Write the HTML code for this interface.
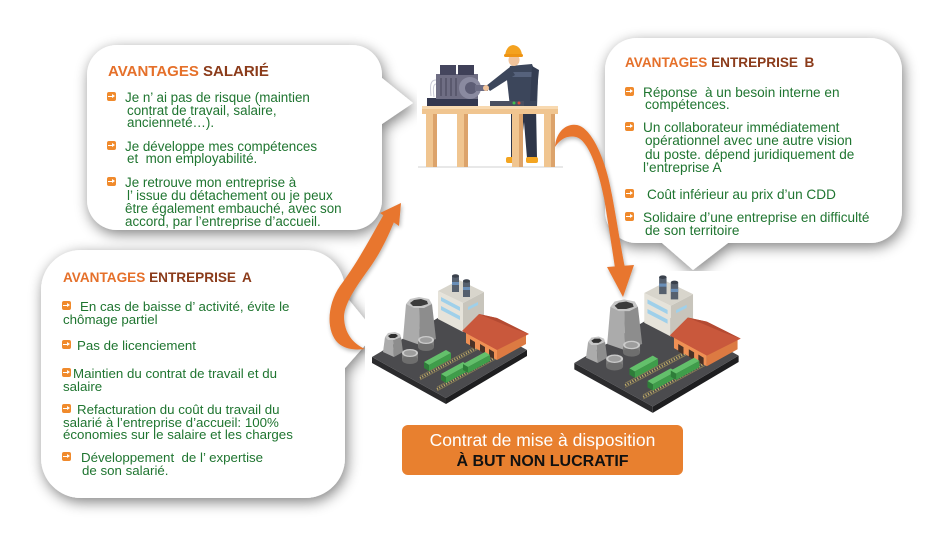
<!DOCTYPE html>
<html><head><meta charset="utf-8">
<style>
html,body{margin:0;padding:0;background:#fff;}
#c{position:relative;width:945px;height:542px;overflow:hidden;background:#fff;font-family:"Liberation Sans",Arial,sans-serif;}
#c svg{position:absolute;left:0;top:0;}
.t{position:absolute;white-space:nowrap;line-height:13px;color:#1f7530;}
.s1{font-size:13.4px}.s2{font-size:13.6px}.s3{font-size:13.3px}
.h{position:absolute;white-space:nowrap;font-weight:bold;font-size:13.6px;line-height:14px;}
.h .o{color:#e5702a}.h .b{color:#8b3b1a}
.i{position:absolute;width:9px;height:9px;background:#f08a2c;border-radius:2px;}
.i::before{content:"";position:absolute;left:1.2px;top:3.7px;width:3.8px;height:1.6px;background:#fff;}
.i::after{content:"";position:absolute;left:4.8px;top:1.7px;width:0;height:0;border-left:3.2px solid #fff;border-top:2.8px solid transparent;border-bottom:2.8px solid transparent;}
.btn{position:absolute;left:402px;width:281px;text-align:center;white-space:nowrap;}
</style></head>
<body><div id="c">
<svg width="945" height="542" viewBox="0 0 945 542" xmlns="http://www.w3.org/2000/svg">
<defs>
<filter id="sh" x="-20%" y="-20%" width="140%" height="150%">
<feGaussianBlur in="SourceAlpha" stdDeviation="7"/>
<feOffset dx="2" dy="4" result="b"/>
<feComponentTransfer><feFuncA type="linear" slope="0.5"/></feComponentTransfer>
<feMerge><feMergeNode/><feMergeNode in="SourceGraphic"/></feMerge>
</filter>
<filter id="ash" x="-30%" y="-30%" width="160%" height="160%">
<feGaussianBlur in="SourceAlpha" stdDeviation="2"/>
<feOffset dx="1" dy="2"/>
<feComponentTransfer><feFuncA type="linear" slope="0.3"/></feComponentTransfer>
<feMerge><feMergeNode/><feMergeNode in="SourceGraphic"/></feMerge>
</filter>
<g id="car">
<polygon points="0,0 22,-12 27,-9 5,3" fill="#63c06b"/>
<polygon points="5,3 27,-9 27,-3 5,9" fill="#3f9d4a"/>
<polygon points="0,0 5,3 5,9 0,6" fill="#2e7d39"/>
</g>
<g id="fac">
<polygon points="372,357 446,398 446,404 372,363" fill="#2b2b2d"/>
<polygon points="446,398 527,350 527,356 446,404" fill="#1e1e20"/>
<polygon points="372,357 453,309 527,350 446,398" fill="#4b4b4e"/>
<g stroke="#c9b36c" stroke-width="2.2" stroke-dasharray="1 1.6">
<line x1="420" y1="378" x2="484" y2="344"/>
<line x1="437" y1="389" x2="496" y2="357"/>
</g>
<g stroke="#8f8256" stroke-width="0.7">
<line x1="420" y1="376" x2="484" y2="342"/><line x1="420" y1="380" x2="484" y2="346"/>
<line x1="437" y1="387" x2="496" y2="355"/><line x1="437" y1="391" x2="496" y2="359"/>
</g>
<polygon points="406,304 419,307 420,345 403,339" fill="#ababab"/>
<polygon points="419,307 432,304 436,339 420,345" fill="#8d8d8d"/>
<polygon points="406,304 410,299 419,297 429,299 432,304 424,308 414,308" fill="#c6c6c6"/>
<polygon points="410,303 414,300 421,299 427,301 428,304 421,306 413,306" fill="#3b3b3b"/>
<polygon points="385,337 393,340 394,357 383,352" fill="#ababab"/>
<polygon points="393,340 401,337 403,352 394,357" fill="#8d8d8d"/>
<polygon points="385,337 388,333 395,332 400,334 401,337 394,340 388,340" fill="#c6c6c6"/>
<polygon points="388,336 391,334 396,334 398,336 395,338 390,338" fill="#2f2f2f"/>
<rect x="418" y="340" width="16" height="7" fill="#7a7a7a"/><ellipse cx="426" cy="347" rx="8" ry="4" fill="#6e6e6e"/>
<ellipse cx="426" cy="340" rx="8" ry="4" fill="#cacaca"/><ellipse cx="426" cy="340" rx="6" ry="2.8" fill="#9d9d9d"/>
<rect x="402" y="353" width="16" height="7" fill="#7a7a7a"/><ellipse cx="410" cy="360" rx="8" ry="4" fill="#6e6e6e"/>
<ellipse cx="410" cy="353" rx="8" ry="4" fill="#cacaca"/><ellipse cx="410" cy="353" rx="6" ry="2.8" fill="#9d9d9d"/>
<polygon points="438,291 463,303 463,332 438,319" fill="#e6e3da"/>
<polygon points="463,303 484,292 484,321 463,332" fill="#c8c5bc"/>
<polygon points="438,291 459,280 484,292 463,303" fill="#d8d5cc"/>
<polygon points="441,297 460,307 460,311 441,301" fill="#9fd0ea"/>
<polygon points="441,306 460,316 460,320 441,310" fill="#9fd0ea"/>
<polygon points="468,307 478,302 478,305 468,310" fill="#9fd0ea"/>
<rect x="452" y="276" width="7" height="16" fill="#56606e"/><rect x="452" y="282" width="7" height="3" fill="#6a8fb8"/>
<ellipse cx="455.5" cy="276" rx="3.5" ry="1.7" fill="#3a414c"/>
<rect x="463" y="281" width="7" height="16" fill="#56606e"/><rect x="463" y="287" width="7" height="3" fill="#6a8fb8"/>
<ellipse cx="466.5" cy="281" rx="3.5" ry="1.7" fill="#3a414c"/>
<polygon points="466,332 497,349 497,360 466,343" fill="#ef9054"/>
<polygon points="497,349 526,333 526,344 497,360" fill="#dc7a42"/>
<polygon points="470,339 475,342 475,349 470,346" fill="#4b3226"/>
<polygon points="480,344 485,347 485,354 480,351" fill="#4b3226"/>
<polygon points="489,349 494,352 494,359 489,356" fill="#4b3226"/>
<polygon points="462,331 479,314 497,318 529,334 497,350" fill="#c9583c"/>
<polygon points="479,314 497,318 529,334 512,328" fill="#b44a32"/>
<use href="#car" x="424" y="362"/>
<use href="#car" x="441" y="374"/>
<use href="#car" x="463" y="364"/>
</g>
</defs>

<!-- bubbles -->
<g filter="url(#sh)" fill="#fff">
<path d="M117 45 H352 A30 30 0 0 1 382 75 V78 L413 103 L382 124 V200 A30 30 0 0 1 352 230 H117 A30 30 0 0 1 87 200 V75 A30 30 0 0 1 117 45 Z"/>
<path d="M637 38 H870 A32 32 0 0 1 902 70 V211 A32 32 0 0 1 870 243 H728 L693 270 L662 243 H637 A32 32 0 0 1 605 211 V70 A32 32 0 0 1 637 38 Z"/>
<path d="M81 250 H305 A40 40 0 0 1 345 290 V295 L376 333 L345 368 V458 A40 40 0 0 1 305 498 H81 A40 40 0 0 1 41 458 V290 A40 40 0 0 1 81 250 Z"/>
</g>

<!-- image backgrounds -->
<rect x="417" y="30" width="162" height="148" fill="#fff"/>
<rect x="365" y="262" width="180" height="145" fill="#fff"/>
<rect x="566" y="271" width="190" height="140" fill="#fff"/>

<!-- worker scene -->
<rect x="418" y="166" width="145" height="2" fill="#e8e8e8"/>
<polygon points="511,106 536,106 537,158 527,158 524,122 520,158 511,158" fill="#2e3649"/>
<rect x="506" y="157" width="11" height="6" rx="2" fill="#f3a521"/>
<rect x="526" y="157" width="12" height="6" rx="2" fill="#f3a521"/>
<polygon points="510,66 532,64 538,80 537,107 510,107 507,80" fill="#3c465b"/>
<rect x="512" y="72" width="22" height="5" fill="#56627c"/>
<polygon points="532,66 539,70 536,101 530,101" fill="#343d52"/>
<ellipse cx="514" cy="60" rx="5.5" ry="6" fill="#f1c49c"/>
<path d="M505 56 Q506 46 513 45 Q521 46 522 55 Z" fill="#f4a21f"/>
<rect x="504" y="54" width="19" height="3" rx="1.5" fill="#ee9414"/>
<rect x="422" y="106" width="136" height="8" fill="#f0c590"/>
<rect x="422" y="106" width="136" height="3" fill="#f8d9b0"/>
<rect x="426" y="114" width="11" height="53" fill="#f0c590"/><rect x="433" y="114" width="4" height="53" fill="#dca36b"/>
<rect x="457" y="114" width="11" height="53" fill="#f0c590"/><rect x="464" y="114" width="4" height="53" fill="#dca36b"/>
<rect x="512" y="114" width="11" height="53" fill="#f0c590"/><rect x="519" y="114" width="4" height="53" fill="#dca36b"/>
<rect x="544" y="114" width="11" height="53" fill="#f0c590"/><rect x="551" y="114" width="4" height="53" fill="#dca36b"/>
<g stroke="#c9c9d6" stroke-width="1" fill="none">
<path d="M436 80 C430 80 430 86 431 96"/><path d="M436 84 C433 84 433 90 434 97"/>
</g>
<rect x="427" y="98" width="51" height="8" fill="#33374f"/>
<rect x="436" y="74" width="42" height="25" fill="#6f6e84"/>
<g fill="#5a596e"><rect x="440" y="78" width="2" height="18"/><rect x="445" y="78" width="2" height="18"/><rect x="450" y="78" width="2" height="18"/><rect x="455" y="78" width="2" height="18"/></g>
<rect x="440" y="65" width="16" height="10" fill="#45465e"/>
<rect x="458" y="65" width="16" height="10" fill="#3f4058"/>
<circle cx="470" cy="88" r="11" fill="#8a8aa0"/>
<circle cx="471" cy="88" r="6" fill="#5d5d75"/>
<rect x="475" y="85" width="13" height="6" fill="#6c6c84"/>
<rect x="490" y="101" width="34" height="5" fill="#4a4f60"/>
<circle cx="514" cy="103" r="1.5" fill="#3fbf4f"/>
<circle cx="519" cy="103" r="1.5" fill="#e04a3a"/>
<polygon points="510,67 515,75 490,91 486,86" fill="#3c465b"/>
<circle cx="486" cy="88" r="3" fill="#f1c49c"/>

<!-- factories -->
<use href="#fac"/>
<use href="#fac" transform="translate(657 345) scale(1.06) translate(-450 -340)"/>

<!-- arrows -->
<g fill="#e8762d" filter="url(#ash)">
<path d="M384 214 C372 235 358 262 340 286 C328 303 325 330 338 343 C346 350 356 350 365 349 C354 344 344 334 344 316 C345 302 358 284 371 266 C380 253 388 237 394 222 Z"/>
<polygon points="380,213 399,226 401,203"/>
<path d="M555 147 C556 132 566 123 577 125 C592 128 606 160 612 195 C617 222 621 248 625 268 L615 268 C612 248 608 222 604 198 C598 168 588 140 576 137 C566 135 560 140 555 147 Z"/>
<polygon points="607,267 634,265 623,297"/>
</g>

<!-- button -->
<rect x="402" y="425" width="281" height="50" rx="6" fill="#e8802f"/>
</svg>

<!-- headings -->
<div class="h" style="left:108px;top:64px;font-size:15px;line-height:15px;"><span class="o">AVANTAGES</span> <span class="b">SALARIÉ</span></div>
<div class="h" style="left:625px;top:56px;"><span class="o">AVANTAGES</span> <span class="b">ENTREPRISE&#8201; B</span></div>
<div class="h" style="left:63px;top:271px;"><span class="o">AVANTAGES</span> <span class="b">ENTREPRISE&#8201; A</span></div>

<!-- bubble 1 -->
<div class="i" style="left:107px;top:92px"></div>
<div class="i" style="left:107px;top:141px"></div>
<div class="i" style="left:107px;top:177px"></div>
<div class="t s1" style="left:125px;top:91px">Je n’ ai pas de risque (maintien</div>
<div class="t s1" style="left:127px;top:104px">contrat de travail, salaire,</div>
<div class="t s1" style="left:127px;top:116px">ancienneté…).</div>
<div class="t s1" style="left:125px;top:140px">Je développe mes compétences</div>
<div class="t s1" style="left:127px;top:152px">et&nbsp; mon employabilité.</div>
<div class="t s1" style="left:125px;top:176px">Je retrouve mon entreprise à</div>
<div class="t s1" style="left:127px;top:189px">l’ issue du détachement ou je peux</div>
<div class="t s1" style="left:125px;top:202px">être également embauché, avec son</div>
<div class="t s1" style="left:125px;top:215px">accord, par l’entreprise d’accueil.</div>

<!-- bubble 2 -->
<div class="i" style="left:625px;top:87px"></div>
<div class="i" style="left:625px;top:122px"></div>
<div class="i" style="left:625px;top:189px"></div>
<div class="i" style="left:625px;top:212px"></div>
<div class="t s2" style="left:643px;top:86px">Réponse&nbsp; à un besoin interne en</div>
<div class="t s2" style="left:645px;top:98px">compétences.</div>
<div class="t s2" style="left:643px;top:121px">Un collaborateur immédiatement</div>
<div class="t s2" style="left:645px;top:134px">opérationnel avec une autre vision</div>
<div class="t s2" style="left:645px;top:148px">du poste. dépend juridiquement de</div>
<div class="t s2" style="left:643px;top:161px">l’entreprise A</div>
<div class="t s2" style="left:647px;top:188px">Coût inférieur au prix d’un CDD</div>
<div class="t s2" style="left:643px;top:211px">Solidaire d’une entreprise en difficulté</div>
<div class="t s2" style="left:645px;top:224px">de son territoire</div>

<!-- bubble 3 -->
<div class="i" style="left:62px;top:301px"></div>
<div class="i" style="left:62px;top:340px"></div>
<div class="i" style="left:62px;top:368px"></div>
<div class="i" style="left:62px;top:404px"></div>
<div class="i" style="left:62px;top:452px"></div>
<div class="t s3" style="left:80px;top:300px">En cas de baisse d’ activité, évite le</div>
<div class="t s3" style="left:63px;top:313px">chômage partiel</div>
<div class="t s3" style="left:77px;top:339px">Pas de licenciement</div>
<div class="t s3" style="left:73px;top:367px">Maintien du contrat de travail et du</div>
<div class="t s3" style="left:63px;top:380px">salaire</div>
<div class="t s3" style="left:77px;top:403px">Refacturation du coût du travail du</div>
<div class="t s3" style="left:63px;top:416px">salarié à l’entreprise d’accueil: 100%</div>
<div class="t s3" style="left:63px;top:427.5px">économies sur le salaire et les charges</div>
<div class="t s3" style="left:81px;top:451px">Développement&nbsp; de l’ expertise</div>
<div class="t s3" style="left:82px;top:464px">de son salarié.</div>

<!-- button text -->
<div class="btn" style="top:430px;font-size:17.5px;line-height:20px;color:#fff;">Contrat de mise à disposition</div>
<div class="btn" style="top:453px;font-size:16px;line-height:18px;font-weight:bold;color:#111;">À BUT NON LUCRATIF</div>
</div></body></html>
